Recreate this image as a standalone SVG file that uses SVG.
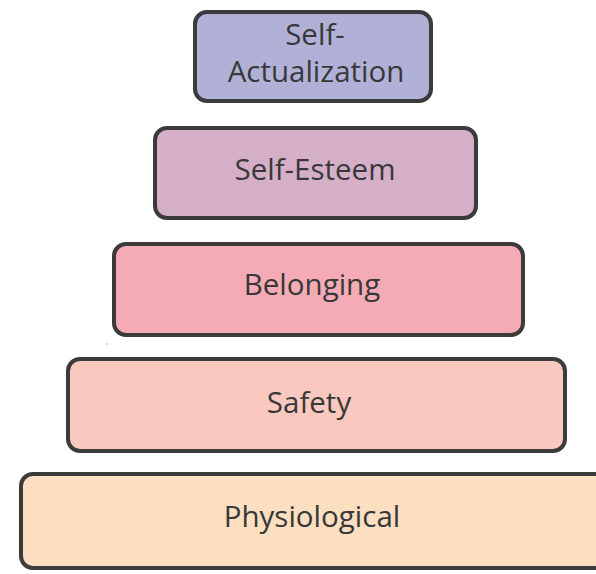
<svg xmlns="http://www.w3.org/2000/svg" width="596" height="574" viewBox="0 0 596 574">
<style>
.box{stroke:#3b3b3b;stroke-width:4}
.lbl{font-family:"Open Sans","Liberation Sans",sans-serif;font-size:29.5px;font-weight:400;fill:#383838;text-anchor:middle}
</style>
<rect width="596" height="574" fill="#fff"/>
<g id="self-actualization">
<rect class="box" x="195" y="12" width="236" height="89" rx="12" fill="#b1b1d8"/>
<text class="lbl" x="315" y="45">Self-</text>
<text class="lbl" x="316" y="82">Actualization</text>
</g>
<g id="self-esteem">
<rect class="box" x="155" y="128" width="321" height="90" rx="12" fill="#d5aec8"/>
<text class="lbl" x="315" y="180">Self-Esteem</text>
</g>
<g id="belonging">
<rect class="box" x="114" y="244" width="409" height="91" rx="12" fill="#f5abb6"/>
<text class="lbl" x="312" y="295">Belonging</text>
</g>
<g id="safety">
<rect class="box" x="68" y="359" width="497" height="92" rx="12" fill="#f9c8bf"/>
<text class="lbl" x="309" y="413">Safety</text>
</g>
<g id="physiological">
<rect class="box" x="21" y="474" width="600" height="94" rx="12" fill="#fcdfc0"/>
<text class="lbl" x="312" y="527">Physiological</text>
</g>
<circle cx="107" cy="344" r="0.8" fill="#aaa"/>
<g id="connectors"></g>
</svg>
